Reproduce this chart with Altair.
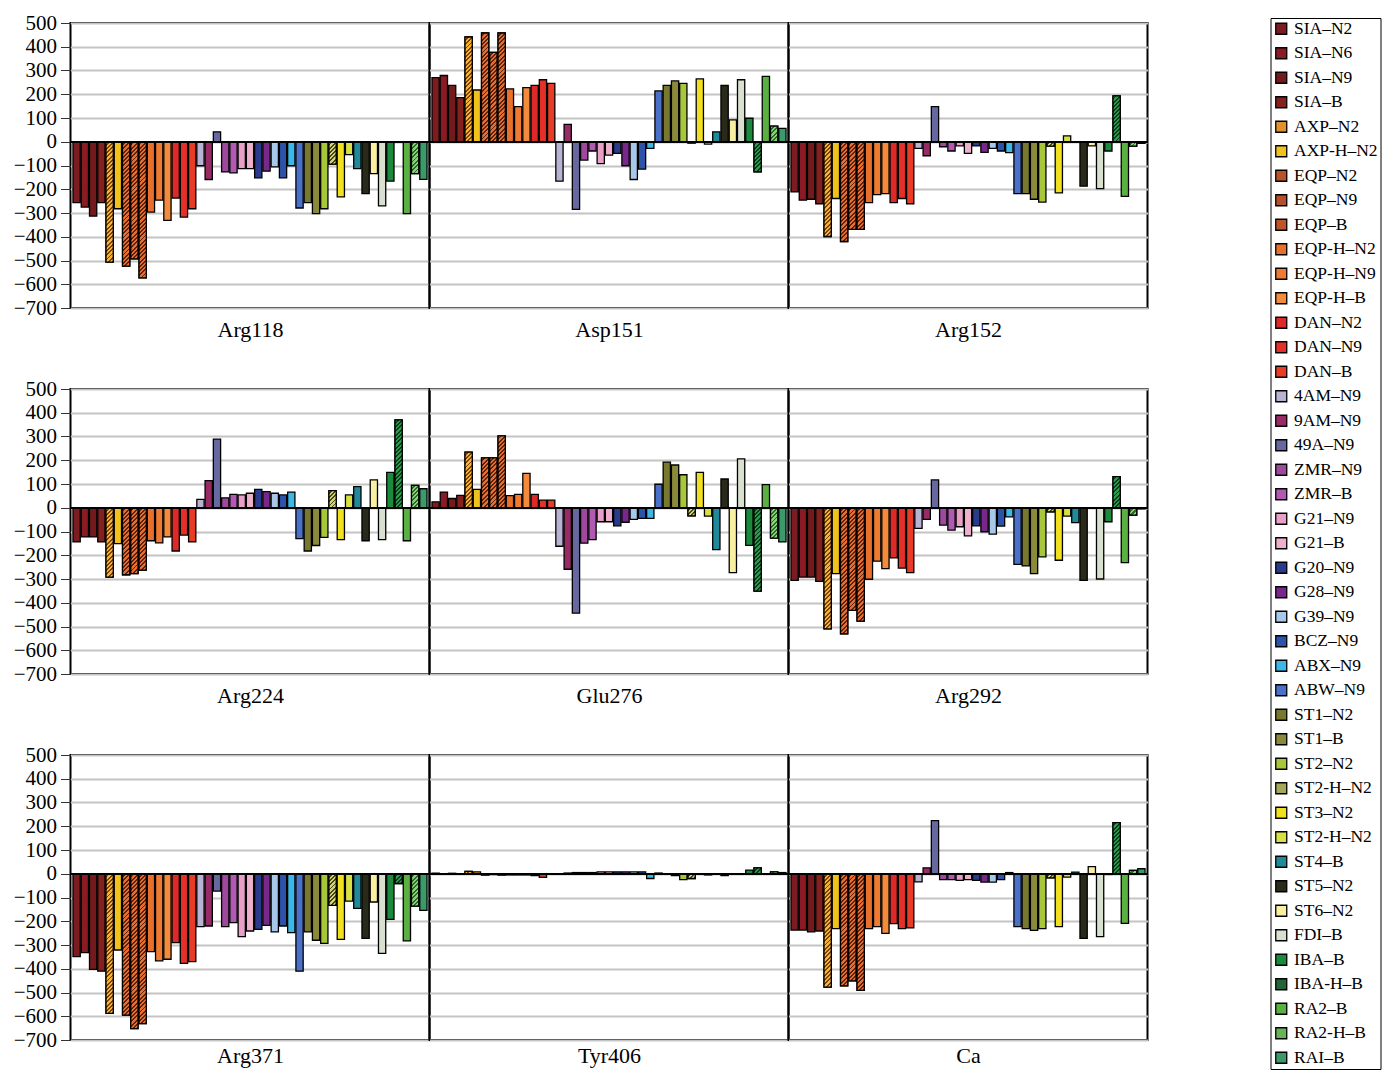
import math
import altair as alt
import pandas as pd

# ---- categories (legend order) ----
labels = ["SIA–N2", "SIA–N6", "SIA–N9", "SIA–B", "AXP–N2", "AXP-H–N2",
          "EQP–N2", "EQP–N9", "EQP–B", "EQP-H–N2", "EQP-H–N9", "EQP-H–B",
          "DAN–N2", "DAN–N9", "DAN–B", "4AM–N9", "9AM–N9", "49A–N9",
          "ZMR–N9", "ZMR–B", "G21–N9", "G21–B", "G20–N9", "G28–N9",
          "G39–N9", "BCZ–N9", "ABX–N9", "ABW–N9", "ST1–N2", "ST1–B",
          "ST2–N2", "ST2-H–N2", "ST3–N2", "ST2-H–N2 ", "ST4–B", "ST5–N2",
          "ST6–N2", "FDI–B", "IBA–B", "IBA-H–B", "RA2–B", "RA2-H–B", "RAI–B"]

colors = ["#7c1c20", "#8a1b24", "#741a1d", "#84211f", "#e0922c", "#f2c21c",
          "#b8532a", "#b4502a", "#bc562a", "#e8702c", "#ef7a30", "#f38a3c",
          "#dd2a28", "#e5302a", "#e83c26", "#b9b2d2", "#982a66", "#6868a0",
          "#9e489e", "#b05ab2", "#e8a0c8", "#eeb0cc", "#2a3a8c", "#78288a",
          "#a8c8ea", "#2c52aa", "#3cb8e8", "#4a70c8", "#78782e", "#8a8a3a",
          "#a8c63a", "#a4a858", "#f0e020", "#d8e044", "#208a9a", "#2a2a1a",
          "#f8f0a0", "#d8e0d0", "#1a8a3c", "#226436", "#5ab040", "#66b456",
          "#3a9a6a"]

# hatched series: (light colour, stripe colour)
hatch_styles = {
    "AXP–N2": ("#f8b42e", "#7a4210"),
    "EQP–N2": ("#e86e30", "#5a2410"),
    "EQP–N9": ("#e86e30", "#5a2410"),
    "EQP–B": ("#e86e30", "#5a2410"),
    "ST2-H–N2": ("#d2d474", "#46461e"),
    "IBA-H–B": ("#2c9c4c", "#0c3a1c"),
    "RA2-H–B": ("#86d274", "#2a6a2a"),
}

panels = ["Arg118", "Asp151", "Arg152", "Arg224", "Glu276", "Arg292",
          "Arg371", "Tyr406", "Ca"]

arg118 = [-256, -275, -313, -256, -507, -282, -524, -493, -573, -296, -246, -331,
          -237, -317, -282, -101, -159, 42, -127, -131, -113, -113, -152, -124,
          -106, -152, -101, -279, -256, -303, -282, -94, -232, -54, -113, -218,
          -134, -270, -166, 0, -303, -134, -158]
asp151 = [270, 279, 237, 186, 441, 218, 458, 376, 458, 223, 148, 228,
          237, 261, 246, -166, 73, -285, -77, -39, -92, -56, -49, -101,
          -159, -115, -28, 214, 237, 256, 246, -5, 265, -10, 42, 237,
          92, 261, 99, -127, 275, 66, 56]
arg152 = [-211, -246, -242, -261, -399, -239, -420, -369, -369, -256, -223, -218,
          -256, -239, -261, -28, -59, 148, -21, -39, -17, -49, -17, -45,
          -28, -39, -46, -218, -218, -242, -254, -18, -215, 25, 0, -187,
          -17, -197, -39, 193, -230, -18, -7]
arg224 = [-144, -123, -123, -144, -292, -151, -282, -277, -263, -139, -148, -123,
          -182, -115, -144, 35, 114, 289, 42, 56, 54, 61, 77, 68,
          61, 54, 66, -130, -182, -159, -125, 72, -134, 54, 89, -139,
          117, -134, 149, 370, -139, 94, 80]
glu276 = [25, 66, 39, 52, 234, 77, 210, 210, 303, 51, 56, 145,
          56, 32, 32, -162, -259, -444, -149, -134, -59, -59, -76, -61,
          -49, -45, -45, 99, 192, 180, 139, -34, 149, -35, -176, 121,
          -273, 206, -158, -351, 97, -128, -144]
arg292 = [-306, -292, -292, -310, -510, -277, -531, -432, -477, -301, -225, -256,
          -211, -254, -273, -87, -49, 117, -73, -94, -80, -118, -76, -101,
          -111, -77, -38, -238, -245, -277, -207, -17, -221, -35, -63, -306,
          0, -300, -59, 131, -231, -31, -5]
arg371 = [-349, -332, -403, -410, -588, -321, -595, -652, -631, -328, -367, -360,
          -290, -377, -370, -223, -220, -73, -223, -206, -265, -241, -234, -217,
          -245, -220, -248, -410, -245, -280, -293, -133, -276, -115, -146, -272,
          -119, -335, -192, -41, -283, -136, -154]
tyr406 = [3, -3, 2, 0, 10, 8, -5, -3, -5, -5, -5, -5,
          -8, -15, 0, -3, 3, 5, 5, 5, 8, 8, 8, 8,
          8, 8, -20, 3, 0, -8, -25, -20, 0, -5, 0, -8,
          0, 0, 15, 25, 0, 8, 5]
ca = [-237, -237, -245, -241, -477, -231, -472, -451, -491, -231, -223, -251,
      -210, -231, -228, -34, 25, 224, -25, -25, -28, -25, -28, -35,
      -35, -25, 5, -223, -231, -238, -231, -17, -223, -14, 7, -272,
      30, -265, -3, 215, -209, 14, 21]

series = [arg118, asp151, arg152, arg224, glu276, arg292, arg371, tyr406, ca]
yticks = list(range(-700, 501, 100))

FONT = "Liberation Serif"
PANEL_W, PANEL_H = 359, 285
Y_MIN, Y_MAX = -700, 500
P_INNER, P_OUTER = 0.12, 0.3
BAR_W = PANEL_W / (len(labels) - P_INNER + 2 * P_OUTER) * (1 - P_INNER)
PX_PER_UNIT = PANEL_H / (Y_MAX - Y_MIN)
HATCH_PERIOD = 3.0


def hatch_gradient(value, light, dark):
    """Diagonal '/' stripes as a hard-stop linear gradient for one bar."""
    w = BAR_W
    h = max(abs(value) * PX_PER_UNIT, 1.0)
    k = (w + h) / (w * w + h * h)
    n = max(1, int(round((w + h) / math.sqrt(2) / HATCH_PERIOD)))
    stops = []
    for i in range(n):
        a, b, c = i / n, (i + 0.55) / n, (i + 1) / n
        stops += [alt.GradientStop(offset=round(a, 5), color=light),
                  alt.GradientStop(offset=round(b, 5), color=light),
                  alt.GradientStop(offset=round(b, 5), color=dark),
                  alt.GradientStop(offset=round(c, 5), color=dark)]
    return alt.LinearGradient(gradient="linear", stops=stops,
                              x1=0, y1=0, x2=round(k * w, 5), y2=round(k * h, 5))


xscale = alt.Scale(domain=labels, paddingInner=P_INNER, paddingOuter=P_OUTER)
yscale = alt.Scale(domain=[Y_MIN, Y_MAX], nice=False)

legend = alt.Legend(title=None, orient="none", legendX=1200, legendY=-5,
                    symbolType="square", symbolSize=121,
                    symbolStrokeColor="black", symbolStrokeWidth=1.3,
                    symbolOpacity=1, labelFont=FONT, labelFontSize=17.5,
                    labelColor="black", labelOffset=4, rowPadding=5.5,
                    symbolLimit=100, labelLimit=250,
                    strokeColor="black", padding=2)

charts = []
for idx, (name, vals) in enumerate(zip(panels, series)):
    df = pd.DataFrame({"ligand": labels, "value": vals})
    first_col = idx % 3 == 0
    last_row = idx >= 6
    if first_col:
        yaxis = alt.Axis(values=yticks, title=None, grid=True, tickSize=10,
                         labelPadding=4, domain=False, labelOverlap=False,
                         labelBound=False, labelFlush=False)
    else:
        yaxis = alt.Axis(values=yticks, title=None, grid=True, labels=False,
                         ticks=False, domain=False)
    xaxis = alt.Axis(labels=False, ticks=False, domain=False, title=name,
                     titlePadding=5 if last_row else 11)
    xenc = alt.X("ligand:N", sort=labels, scale=xscale, axis=xaxis)
    yenc = alt.Y("value:Q", scale=yscale, axis=yaxis)

    bars = alt.Chart(df).mark_bar(stroke="black", strokeWidth=1.3).encode(
        x=xenc, y=yenc,
        color=alt.Color("ligand:N", sort=labels,
                        scale=alt.Scale(domain=labels, range=colors),
                        legend=legend),
    )
    layers = [bars]
    for lab, v in zip(labels, vals):
        if lab in hatch_styles and v != 0:
            light, dark = hatch_styles[lab]
            hdf = pd.DataFrame({"ligand": [lab], "value": [v]})
            layers.append(
                alt.Chart(hdf).mark_bar(
                    fill=hatch_gradient(v, light, dark),
                    stroke="black", strokeWidth=1.3
                ).encode(x=xenc, y=yenc)
            )
    zero = alt.Chart(df).mark_rule(color="black", strokeWidth=1.5).encode(
        y=alt.Y(datum=0, axis=yaxis)
    )
    layers.append(zero)
    charts.append(alt.layer(*layers).properties(width=PANEL_W, height=PANEL_H))

chart = alt.concat(*charts, columns=3, spacing={"row": 81, "column": 0},
                   bounds="flush").properties(
    padding={"left": 3.5, "top": 3, "right": 0, "bottom": 0}
).configure_view(
    stroke="black", strokeWidth=2
).configure_axis(
    labelFont=FONT, labelFontSize=21, labelColor="black",
    titleFont=FONT, titleFontSize=22, titleFontWeight="normal",
    titleColor="black", gridColor="#c4c4c4", gridWidth=2,
    tickColor="#333333", labelOverlap=False
).configure_legend(
    strokeColor="black"
)

chart.save("out.html", embed_options={"renderer": "svg", "actions": False})
